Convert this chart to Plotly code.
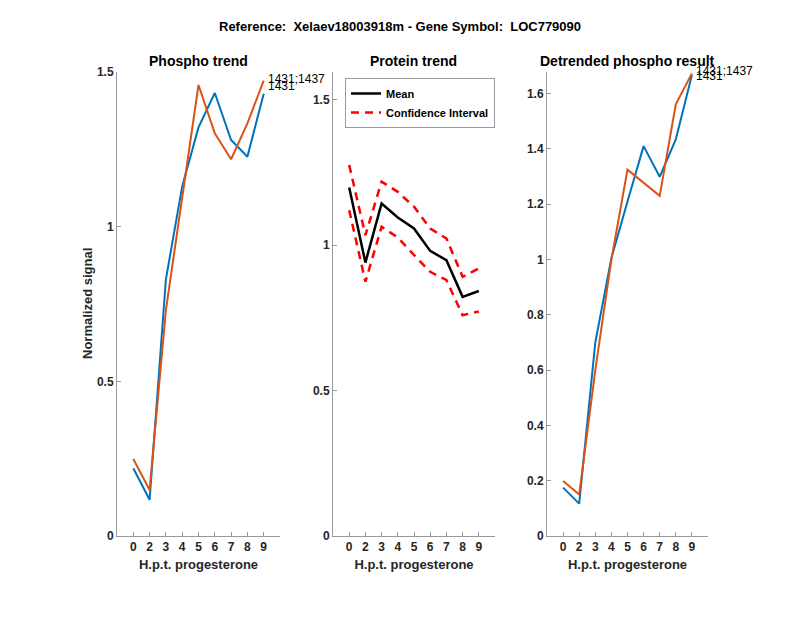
import plotly.graph_objects as go

categories = ["0", "2", "3", "4", "5", "6", "7", "8", "9"]

phospho_1431 = [0.219, 0.117, 0.83, 1.13, 1.321, 1.432, 1.28, 1.226, 1.43]
phospho_1431_1437 = [0.249, 0.149, 0.73, 1.10, 1.458, 1.302, 1.218, 1.334, 1.472]

protein_mean = [1.198, 0.94, 1.143, 1.095, 1.057, 0.98, 0.948, 0.822, 0.842]
protein_ci_upper = [1.275, 1.034, 1.218, 1.183, 1.132, 1.057, 1.023, 0.891, 0.92]
protein_ci_lower = [1.12, 0.874, 1.063, 1.026, 0.966, 0.908, 0.88, 0.759, 0.772]

detrended_1431 = [0.175, 0.117, 0.70, 1.005, 1.21, 1.41, 1.299, 1.434, 1.667]
detrended_1431_1437 = [0.199, 0.15, 0.60, 1.0, 1.325, 1.278, 1.23, 1.561, 1.673]

label_blue = "1431"
label_orange = "1431;1437"

xpos = list(range(1, len(categories) + 1))
BLUE = "#0072BD"
ORANGE = "#D95319"
AXC = "#262626"
FONT = "Liberation Sans, Arial, sans-serif"

fig = go.Figure()

# Left panel
fig.add_trace(go.Scatter(x=xpos, y=phospho_1431, mode="lines", line=dict(color=BLUE, width=2),
                         xaxis="x", yaxis="y", showlegend=False))
fig.add_trace(go.Scatter(x=xpos, y=phospho_1431_1437, mode="lines", line=dict(color=ORANGE, width=2),
                         xaxis="x", yaxis="y", showlegend=False))
# Middle panel
fig.add_trace(go.Scatter(x=xpos, y=protein_mean, mode="lines", line=dict(color="black", width=2.5),
                         xaxis="x2", yaxis="y2", name="<b>Mean</b>"))
fig.add_trace(go.Scatter(x=xpos, y=protein_ci_upper, mode="lines",
                         line=dict(color="#FF0000", width=2.5, dash="8px,6px"),
                         xaxis="x2", yaxis="y2", name="<b>Confidence Interval</b>"))
fig.add_trace(go.Scatter(x=xpos, y=protein_ci_lower, mode="lines",
                         line=dict(color="#FF0000", width=2.5, dash="8px,6px"),
                         xaxis="x2", yaxis="y2", showlegend=False))
# Right panel
fig.add_trace(go.Scatter(x=xpos, y=detrended_1431, mode="lines", line=dict(color=BLUE, width=2),
                         xaxis="x3", yaxis="y3", showlegend=False))
fig.add_trace(go.Scatter(x=xpos, y=detrended_1431_1437, mode="lines", line=dict(color=ORANGE, width=2),
                         xaxis="x3", yaxis="y3", showlegend=False))

tickfont = dict(family=FONT, size=12, color=AXC)
titlefont = dict(family=FONT, size=13, color=AXC)

def xax(domain, anchor):
    return dict(domain=domain, anchor=anchor, range=[0, 10], tickmode="array",
                tickvals=xpos, ticktext=["<b>%s</b>" % c for c in categories],
                ticks="inside", ticklen=4, tickcolor="#999999", automargin=False,
                showline=True, linecolor="#999999", linewidth=1, showgrid=False, zeroline=False,
                tickfont=tickfont, title=dict(text="<b>H.p.t. progesterone</b>", font=titlefont, standoff=6))

def yax(domain, anchor, rng, tv, tt):
    return dict(domain=domain, anchor=anchor, range=rng, tickmode="array", tickvals=tv,
                ticktext=["<b>%s</b>" % t for t in tt], automargin=False,
                ticks="inside", ticklen=4, tickcolor="#999999", showline=True, linecolor="#999999",
                linewidth=1, showgrid=False, zeroline=False, tickfont=tickfont)

ydom = [1 - 536 / 618, 1 - 72 / 618]
fig.update_layout(
    width=800, height=618,
    margin=dict(l=0, r=0, t=0, b=0),
    paper_bgcolor="white", plot_bgcolor="white",
    font=dict(family=FONT, color=AXC),
    xaxis=xax([117 / 800, 280 / 800], "y"),
    yaxis=yax(ydom, "x", [0, 1.5], [0, 0.5, 1, 1.5], ["0", "0.5", "1", "1.5"]),
    xaxis2=xax([333 / 800, 495 / 800], "y2"),
    yaxis2=yax(ydom, "x2", [0, 1.595], [0, 0.5, 1, 1.5], ["0", "0.5", "1", "1.5"]),
    xaxis3=xax([547 / 800, 708 / 800], "y3"),
    yaxis3=yax(ydom, "x3", [0, 1.678], [0, 0.2, 0.4, 0.6, 0.8, 1, 1.2, 1.4, 1.6],
               ["0", "0.2", "0.4", "0.6", "0.8", "1", "1.2", "1.4", "1.6"]),
    legend=dict(x=345 / 800, y=1 - 78 / 618, xanchor="left", yanchor="top",
                bgcolor="white", bordercolor="#999999", borderwidth=1,
                font=dict(family=FONT, size=11, color="black"), tracegroupgap=0,
                itemwidth=30),
    showlegend=True,
)

annotations = [
    dict(text="<b>Reference:  Xelaev18003918m - Gene Symbol:  LOC779090</b>", x=0.5, y=1 - 26 / 618,
         xref="paper", yref="paper", showarrow=False, font=dict(family=FONT, size=13, color="black"),
         xanchor="center", yanchor="middle"),
    dict(text="<b>Phospho trend</b>", x=198.5 / 800, y=1 - 61 / 618, xref="paper", yref="paper",
         showarrow=False, font=dict(family=FONT, size=14, color="black"), xanchor="center", yanchor="middle"),
    dict(text="<b>Protein trend</b>", x=414 / 800, y=1 - 61 / 618, xref="paper", yref="paper",
         showarrow=False, font=dict(family=FONT, size=14, color="black"), xanchor="center", yanchor="middle"),
    dict(text="<b>Detrended phospho result</b>", x=627.5 / 800, y=1 - 61 / 618, xref="paper", yref="paper",
         showarrow=False, font=dict(family=FONT, size=14, color="black"), xanchor="center", yanchor="middle"),
    dict(text="<b>Normalized signal</b>", x=88 / 800, y=(ydom[0] + ydom[1]) / 2,
         xref="paper", yref="paper", showarrow=False, textangle=-90,
         font=dict(family=FONT, size=13, color=AXC), xanchor="center", yanchor="middle"),
]
for xr, yr, yb, yo, bshift in [("x", "y", phospho_1431[-1], phospho_1431_1437[-1], 8),
                               ("x3", "y3", detrended_1431[-1], detrended_1431_1437[-1], -1)]:
    annotations.append(dict(text=label_blue, x=xpos[-1], y=yb, xref=xr, yref=yr, showarrow=False,
                            xanchor="left", yanchor="middle", xshift=2, yshift=bshift,
                            font=dict(family=FONT, size=12, color="black")))
    annotations.append(dict(text=label_orange, x=xpos[-1], y=yo, xref=xr, yref=yr, showarrow=False,
                            xanchor="left", yanchor="middle", xshift=2, yshift=2,
                            font=dict(family=FONT, size=12, color="black")))
fig.update_layout(annotations=annotations)

fig.write_html("out.html", config={"displayModeBar": False},
               post_script="document.body.style.margin='0';document.body.style.overflow='hidden';")
